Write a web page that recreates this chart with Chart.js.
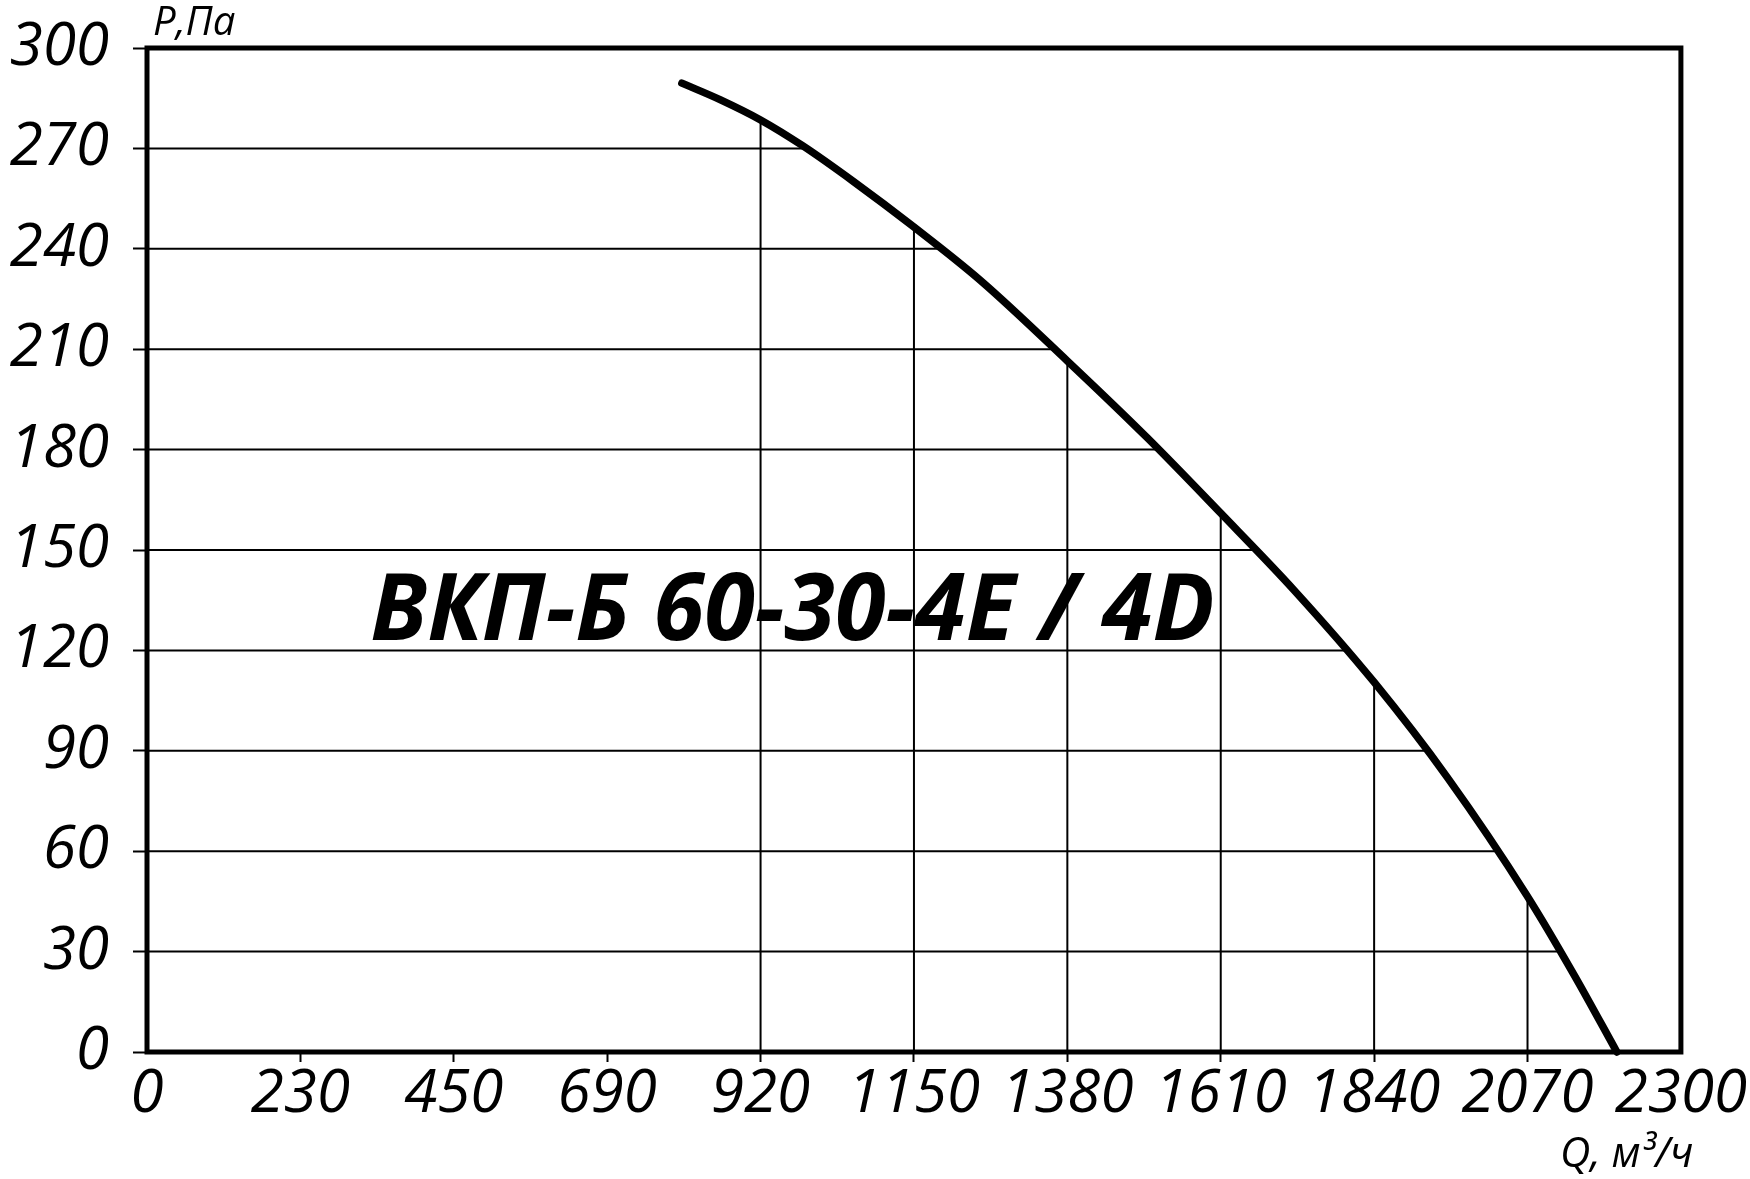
<!DOCTYPE html>
<html>
<head>
<meta charset="utf-8">
<script src="https://cdn.jsdelivr.net/npm/chart.js@4/dist/chart.umd.min.js"></script>
<style>
  html, body { margin: 0; padding: 0; background: #fff; }
  #wrap { width: 1750px; height: 1179px; }
</style>
</head>
<body>
<div id="wrap"><canvas id="fanCurve"></canvas></div>
<script>
// расход Q, м3/ч (точки)
const flowQ = [802, 860, 920, 983, 1060, 1150, 1250, 1380, 1500, 1610, 1720, 1840, 1950, 2070, 2140, 2204];
// давление P, Па
const pressureP = [289.5, 284.5, 278.5, 270.8, 260, 246.5, 230.5, 206.5, 183.5, 161, 138, 110.5, 82, 46.5, 23, 0];

const xTickLabels = ['0', '230', '450', '690', '920', '1150', '1380', '1610', '1840', '2070', '2300'];
const yTickLabels = ['0', '30', '60', '90', '120', '150', '180', '210', '240', '270', '300'];

const chartTitle = 'ВКП-Б 60-30-4E / 4D';
const yAxisTitle = 'P,Па';
const xAxisTitle = 'Q, м³/ч';

const tickFont = { family: 'Open Sans', style: 'italic', size: 60, lineHeight: 1 };

// сетка только под кривой
const gridUnderCurve = {
    id: 'gridUnderCurve',
    beforeDatasetsDraw(chart) {
        const { ctx, chartArea: a, scales: { x, y } } = chart;
        const pts = chart.getDatasetMeta(0).data;
        ctx.save();
        ctx.beginPath();
        ctx.moveTo(a.left, a.bottom);
        ctx.lineTo(a.left, pts[0].y);
        pts.forEach(p => ctx.lineTo(p.x, p.y));
        ctx.lineTo(pts[pts.length - 1].x, a.bottom);
        ctx.closePath();
        ctx.clip();
        ctx.strokeStyle = '#000';
        ctx.lineWidth = 2;
        y.ticks.forEach(t => {
            const py = y.getPixelForValue(t.value);
            ctx.beginPath();
            ctx.moveTo(a.left, py);
            ctx.lineTo(a.right, py);
            ctx.stroke();
        });
        x.ticks.forEach(t => {
            if (t.value < flowQ[0] || t.value > flowQ[flowQ.length - 1]) return;
            const px = x.getPixelForValue(t.value);
            ctx.beginPath();
            ctx.moveTo(px, a.top);
            ctx.lineTo(px, a.bottom);
            ctx.stroke();
        });
        ctx.restore();
    }
};

// рамка и надписи
const frameAndText = {
    id: 'frameAndText',
    afterDatasetsDraw(chart) {
        const { ctx, chartArea: a } = chart;
        ctx.save();
        ctx.strokeStyle = '#000';
        ctx.lineWidth = 5;
        ctx.strokeRect(a.left, a.top, a.right - a.left, a.bottom - a.top);
        ctx.restore();
    },
    afterDraw(chart) {
        const { ctx, chartArea: a } = chart;
        const w = a.right - a.left;
        const h = a.bottom - a.top;
        ctx.save();
        ctx.fillStyle = '#000';
        ctx.textAlign = 'left';
        ctx.textBaseline = 'alphabetic';
        ctx.font = 'italic 40px "Open Sans"';
        ctx.fillText(yAxisTitle, a.left + 6, a.top - 13);
        ctx.font = 'italic 42px "Open Sans"';
        ctx.fillText(xAxisTitle, a.right - 121, a.bottom + 115);

        ctx.font = 'italic bold 93px "Open Sans"';
        const tw = ctx.measureText(chartTitle).width;
        ctx.translate(a.left + w * 0.1455, a.top + h * 0.5896);
        ctx.scale((w * 0.5506) / tw, 1);
        ctx.fillText(chartTitle, 0, 0);
        ctx.restore();
    }
};

const ctxFan = document.getElementById('fanCurve').getContext('2d');
new Chart(ctxFan, {
    type: 'line',
    data: {
        datasets: [{
            label: chartTitle,
            data: flowQ.map((q, i) => ({ x: q, y: pressureP[i] })),
            borderColor: '#000',
            borderWidth: 7.5,
            borderCapStyle: 'round',
            pointRadius: 0,
            cubicInterpolationMode: 'monotone',
            fill: false,
            clip: false
        }]
    },
    options: {
        responsive: true,
        maintainAspectRatio: false,
        animation: false,
        layout: { padding: { top: 48, right: 68, bottom: 0, left: 0 } },
        plugins: {
            legend: { display: false },
            tooltip: { enabled: false },
            title: { display: false }
        },
        scales: {
            x: {
                type: 'linear',
                min: 0,
                max: 2300,
                border: { display: false },
                grid: {
                    drawOnChartArea: false,
                    drawTicks: true,
                    tickLength: 10,
                    tickWidth: 2,
                    tickColor: c => (c.tick && (c.tick.value === 0 || c.tick.value === 2300)) ? 'rgba(0,0,0,0)' : '#000'
                },
                ticks: {
                    stepSize: 230,
                    autoSkip: false,
                    maxRotation: 0,
                    padding: 3,
                    color: '#000',
                    font: tickFont,
                    callback: (v, i) => xTickLabels[i]
                },
                afterFit: s => { s.height = 127; }
            },
            y: {
                min: 0,
                max: 300,
                border: { display: false },
                grid: {
                    drawOnChartArea: false,
                    drawTicks: true,
                    tickLength: 14,
                    tickWidth: 2,
                    tickColor: '#000'
                },
                ticks: {
                    stepSize: 30,
                    autoSkip: false,
                    padding: 24,
                    color: '#000',
                    font: tickFont,
                    callback: (v, i) => yTickLabels[i]
                },
                afterFit: s => { s.width = 147; s.paddingTop = 0; s.paddingBottom = 0; }
            }
        }
    },
    plugins: [gridUnderCurve, frameAndText]
});
</script>
</body>
</html>
